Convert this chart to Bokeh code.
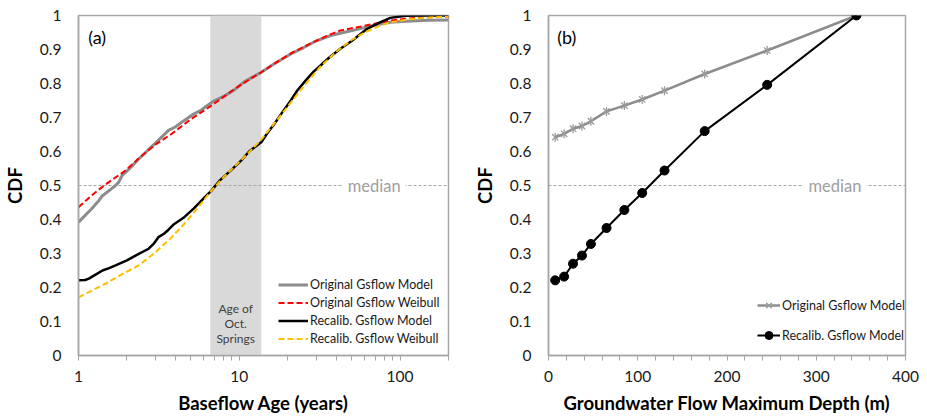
from bokeh.plotting import figure
from bokeh.models import (Range1d, FixedTicker, Span, Label, BoxAnnotation, Legend,
                          LegendItem, CustomJSTickFormatter)
from bokeh.layouts import row
from bokeh.embed import file_html
from bokeh.resources import INLINE

FONT = "Lato"

# ---------------- Panel (a) data: CDF of baseflow age ----------------
orig_model_age = [1.0, 1.2, 1.34, 1.41, 1.6, 1.70, 1.78, 1.87, 2.06, 2.37, 2.73, 3.0, 3.63, 4.0, 4.5,
                  5.2, 5.82, 6.1, 7.03, 8.0, 9.35, 10.8, 12.0, 13.7, 16.5, 20.9, 25, 30, 36.9, 42.5,
                  55, 68.3, 86.9, 110, 150, 200]
orig_model_cdf = [0.392, 0.43, 0.456, 0.47, 0.49, 0.50, 0.51, 0.53, 0.548, 0.578, 0.606, 0.624, 0.662,
                  0.672, 0.69, 0.71, 0.722, 0.73, 0.75, 0.762, 0.782, 0.806, 0.818, 0.833, 0.858,
                  0.887, 0.905, 0.925, 0.941, 0.948, 0.96, 0.971, 0.98, 0.983, 0.986, 0.987]

orig_weib_age = [1.0, 1.2, 1.47, 1.96, 2.37, 3.0, 3.8, 5.0, 6.71, 8.5, 10.3, 13.7, 17, 21, 27, 35,
                 42.5, 55, 68, 87, 110, 150, 200]
orig_weib_cdf = [0.436, 0.47, 0.503, 0.544, 0.58, 0.62, 0.652, 0.695, 0.735, 0.77, 0.797, 0.833,
                 0.862, 0.889, 0.915, 0.94, 0.956, 0.966, 0.975, 0.985, 0.991, 0.995, 0.997]

recal_model_age = [1.0, 1.1, 1.16, 1.3, 1.41, 1.55, 1.70, 2.0, 2.37, 2.73, 2.95, 3.14, 3.4, 3.63,
                   3.9, 4.18, 4.5, 4.82, 5.2, 5.56, 6.0, 6.71, 7.57, 8.93, 10.3, 11.5, 13.7, 15,
                   16.5, 18.5, 20.9, 23, 26, 29, 32, 36, 42.5, 50, 62.4, 75, 86.9, 100, 110, 130, 200]
recal_model_cdf = [0.221, 0.222, 0.226, 0.24, 0.25, 0.257, 0.265, 0.28, 0.299, 0.314, 0.33, 0.348,
                   0.358, 0.37, 0.385, 0.395, 0.405, 0.418, 0.432, 0.446, 0.462, 0.485, 0.515,
                   0.546, 0.574, 0.6, 0.627, 0.655, 0.681, 0.715, 0.75, 0.78, 0.81, 0.835, 0.853,
                   0.875, 0.902, 0.925, 0.961, 0.98, 0.993, 0.997, 0.999, 1.0, 1.0]

recal_weib_age = [1.0, 1.2, 1.47, 1.8, 2.37, 3.0, 3.8, 4.6, 5.56, 6.71, 8.0, 10.3, 13.7, 17, 21, 26,
                  32, 40, 50, 62, 75, 87, 110, 139, 200]
recal_weib_cdf = [0.171, 0.19, 0.211, 0.235, 0.265, 0.303, 0.348, 0.39, 0.436, 0.485, 0.525, 0.575,
                  0.635, 0.69, 0.745, 0.8, 0.85, 0.893, 0.928, 0.953, 0.97, 0.98, 0.988, 0.993,
                  0.997]

springs_age_band = [6.6, 13.7]

# ---------------- Panel (b) data: CDF of max flow depth ----------------
depth_m = [7.5, 17.5, 27.5, 37.5, 47.5, 65, 85, 105, 130, 175, 245, 345]
orig_depth_cdf = [0.642, 0.652, 0.667, 0.675, 0.689, 0.718, 0.735, 0.753, 0.779, 0.828, 0.897, 1.0]
recal_depth_cdf = [0.221, 0.232, 0.27, 0.294, 0.328, 0.375, 0.428, 0.478, 0.544, 0.66, 0.796, 1.0]

y_ticks = [0, 0.1, 0.2, 0.3, 0.4, 0.5, 0.6, 0.7, 0.8, 0.9, 1.0]
age_ticks = [1, 10, 100]
age_minor = [2, 3, 4, 5, 6, 7, 8, 9, 20, 30, 40, 50, 60, 70, 80, 90, 200]
depth_ticks = [0, 100, 200, 300, 400]
depth_minor = [20, 40, 60, 80, 120, 140, 160, 180, 220, 240, 260, 280, 320, 340, 360, 380]

AX = "#a6a6a6"
yfmt = CustomJSTickFormatter(code="return (Math.round(tick*10)/10).toString();")


def style(p, xlabel):
    p.xgrid.visible = False
    p.ygrid.visible = False
    p.outline_line_color = AX
    p.outline_line_width = 1.5
    for ax in (p.xaxis[0], p.yaxis[0]):
        ax.axis_line_color = AX
        ax.axis_line_width = 1.5
        ax.major_label_text_font = FONT
        ax.major_label_text_font_size = "15.5px"
        ax.major_label_text_color = "#1a1a1a"
        ax.axis_label_text_font = FONT
        ax.axis_label_text_font_style = "bold"
        ax.axis_label_text_font_size = "18.5px"
        ax.axis_label_text_color = "#000000"
    xa = p.xaxis[0]
    xa.axis_label = xlabel
    xa.major_tick_in = 0
    xa.major_tick_out = 5
    xa.minor_tick_in = 0
    xa.minor_tick_out = 5
    xa.major_tick_line_color = AX
    xa.minor_tick_line_color = AX
    xa.major_label_standoff = 10
    xa.axis_label_standoff = 7
    ya = p.yaxis[0]
    ya.axis_label = "CDF"
    ya.ticker = FixedTicker(ticks=y_ticks)
    ya.formatter = yfmt
    ya.major_tick_in = 0
    ya.major_tick_out = 0
    ya.minor_tick_in = 0
    ya.minor_tick_out = 0
    ya.major_label_standoff = 17
    ya.axis_label_standoff = 11


# ---------------- Figure (a) ----------------
pa = figure(width=470, height=418, x_axis_type="log", x_range=Range1d(1, 200),
            y_range=Range1d(0, 1), output_backend="svg", toolbar_location=None,
            min_border_left=76, min_border_right=22, min_border_top=15, min_border_bottom=63)
style(pa, "Baseflow Age (years)")
pa.xaxis[0].ticker = FixedTicker(ticks=age_ticks, minor_ticks=age_minor)
pa.xaxis[0].formatter = CustomJSTickFormatter(code="return tick.toString();")

pa.add_layout(BoxAnnotation(left=springs_age_band[0], right=springs_age_band[1],
                            fill_color="#d9d9d9", fill_alpha=1.0, line_alpha=0,
                            level="underlay"))
pa.add_layout(Span(location=0.5, dimension="width", line_color=AX, line_dash="3 2",
                   line_width=1, level="underlay"))

r1 = pa.line(orig_model_age, orig_model_cdf, line_color="#8c8c8c", line_width=3)
r2 = pa.line(orig_weib_age, orig_weib_cdf, line_color="#ff0000", line_width=2, line_dash="6 3")
r3 = pa.line(recal_model_age, recal_model_cdf, line_color="#000000", line_width=2.5)
r4 = pa.line(recal_weib_age, recal_weib_cdf, line_color="#ffc000", line_width=2, line_dash="6 3")

pa.add_layout(Label(x=69, y=0.5, text="median", text_font=FONT, text_font_size="16.5px",
                    text_color="#a0a0a0", text_align="center", text_baseline="middle",
                    background_fill_color="white", padding=5))
pa.add_layout(Label(x=1.15, y=0.97, text="(a)", text_font=FONT, text_font_size="18px",
                    text_color="#000000", text_baseline="top"))
for txt, yy in (("Age of", 0.139), ("Oct.", 0.095), ("Springs", 0.051)):
    pa.add_layout(Label(x=9.5, y=yy, text=txt, text_font=FONT, text_font_size="12px",
                        text_color="#404040", text_align="center", text_baseline="middle"))

leg_a = Legend(items=[LegendItem(label="Original Gsflow Model", renderers=[r1]),
                      LegendItem(label="Original Gsflow Weibull", renderers=[r2]),
                      LegendItem(label="Recalib. Gsflow Model", renderers=[r3]),
                      LegendItem(label="Recalib. Gsflow Weibull", renderers=[r4])],
               location=(200, 8), border_line_alpha=0, background_fill_alpha=0,
               label_text_font=FONT, label_text_font_size="12.5px", label_text_color="#1a1a1a",
               glyph_width=30, glyph_height=17, label_height=17, spacing=1, padding=0,
               margin=0, label_standoff=2)
pa.add_layout(leg_a)

# ---------------- Figure (b) ----------------
pb = figure(width=457, height=418, x_range=Range1d(0, 400), y_range=Range1d(0, 1),
            output_backend="svg", toolbar_location=None,
            min_border_left=64, min_border_right=22, min_border_top=15, min_border_bottom=63)
style(pb, "Groundwater Flow Maximum Depth (m)")
pb.xaxis[0].ticker = FixedTicker(ticks=depth_ticks, minor_ticks=depth_minor)
pb.add_layout(Span(location=0.5, dimension="width", line_color=AX, line_dash="3 2",
                   line_width=1, level="underlay"))

g1 = pb.line(depth_m, orig_depth_cdf, line_color="#8c8c8c", line_width=2.5)
g2 = pb.scatter(depth_m, orig_depth_cdf, marker="x", size=9, line_color="#9a9a9a",
                line_width=1.3)
g3 = pb.scatter(depth_m, orig_depth_cdf, marker="dash", size=9, angle=1.5708,
                line_color="#9a9a9a", line_width=1.3)
k1 = pb.line(depth_m, recal_depth_cdf, line_color="#000000", line_width=2)
k2 = pb.scatter(depth_m, recal_depth_cdf, marker="circle", size=9, fill_color="#000000",
                line_color="#000000")

pb.add_layout(Label(x=321, y=0.5, text="median", text_font=FONT, text_font_size="16.5px",
                    text_color="#a0a0a0", text_align="center", text_baseline="middle",
                    background_fill_color="white", padding=5))
pb.add_layout(Label(x=9.7, y=0.97, text="(b)", text_font=FONT, text_font_size="18px",
                    text_color="#000000", text_baseline="top"))

leg_b = Legend(items=[LegendItem(label="Original Gsflow Model", renderers=[g1, g2, g3]),
                      LegendItem(label="Recalib. Gsflow Model", renderers=[k1, k2])],
               location=(209, 10), border_line_alpha=0, background_fill_alpha=0,
               label_text_font=FONT, label_text_font_size="12.5px", label_text_color="#1a1a1a",
               glyph_width=23, glyph_height=20, label_height=20, spacing=10, padding=0,
               margin=0, label_standoff=2)
pb.add_layout(leg_b)

layout = row(pa, pb)
open("out.html", "w").write(file_html(layout, INLINE))
